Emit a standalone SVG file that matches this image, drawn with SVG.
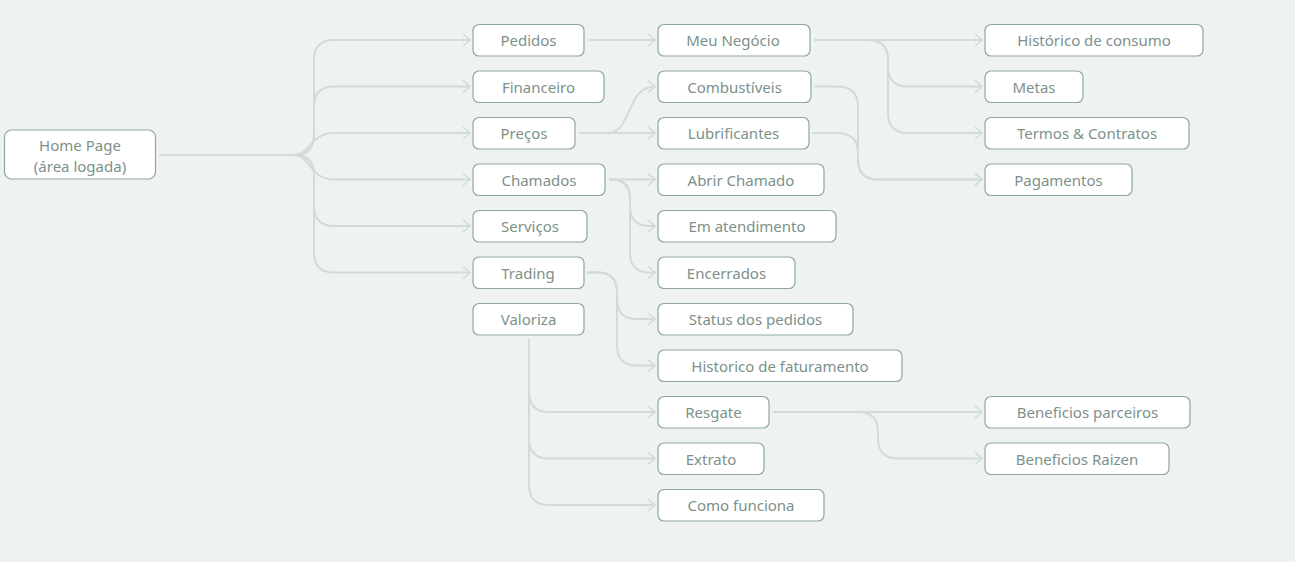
<svg xmlns="http://www.w3.org/2000/svg" width="1295" height="562" viewBox="0 0 1295 562">
<defs>
<marker id="arr" markerWidth="12" markerHeight="14" refX="10" refY="7" orient="auto" markerUnits="userSpaceOnUse">
<path d="M3,1 L10,7 L3,13" fill="none" stroke="#d2dcd6" stroke-width="1.6"/>
</marker>
<style>
.n rect{fill:#ffffff;stroke:#8fa79e;stroke-width:1.2}
.n text{font-family:"Noto Sans","Open Sans","DejaVu Sans",sans-serif;font-size:15px;fill:#7c918a;text-anchor:middle;dominant-baseline:central}
.c path{fill:none;stroke:#d2dcd6;stroke-width:2}
.c path.a{marker-end:url(#arr)}
</style>
</defs>
<rect width="1295" height="562" fill="#eef3ef"/>
<g class="c">
<path class="a" d="M159,155 H294 Q314,155 314,135 V60 Q314,40 334,40 H470"/>
<path class="a" d="M159,155 H294 Q314,155 314,135 V106.5 Q314,86.5 334,86.5 H470"/>
<path class="a" d="M159,155 H294 C310,155 310,133 334,133 H470"/>
<path class="a" d="M159,155 H294 C310,155 310,179.5 334,179.5 H470"/>
<path class="a" d="M159,155 H294 Q314,155 314,175 V206 Q314,226 334,226 H470"/>
<path class="a" d="M159,155 H294 Q314,155 314,175 V252.5 Q314,272.5 334,272.5 H470"/>
<path class="a" d="M589,40 H655"/>
<path class="a" d="M579,133 H655"/>
<path class="a" d="M579,133 H608 C632,133 626,86.5 655,86.5"/>
<path class="a" d="M609,179.5 H655"/>
<path class="a" d="M609,179.5 H612 Q630,179.5 630,199.5 V206 Q630,226 650,226 H655"/>
<path class="a" d="M609,179.5 H612 Q630,179.5 630,199.5 V252.5 Q630,272.5 650,272.5 H655"/>
<path class="a" d="M587,272.5 H598 Q617,272.5 617,292.5 V299 Q617,319 637,319 H655"/>
<path class="a" d="M587,272.5 H598 Q617,272.5 617,292.5 V345.5 Q617,365.5 637,365.5 H655"/>
<path class="a" d="M529,339 V392 Q529,412 549,412 H655"/>
<path class="a" d="M529,339 V438.5 Q529,458.5 549,458.5 H655"/>
<path class="a" d="M529,339 V485 Q529,505 549,505 H655"/>
<path class="a" d="M814,40 H982"/>
<path class="a" d="M814,40 H868 Q888,40 888,60 V66.5 Q888,86.5 908,86.5 H982"/>
<path class="a" d="M814,40 H868 Q888,40 888,60 V113 Q888,133 908,133 H982"/>
<path class="a" d="M815,86.5 H837 Q858,86.5 858,106.5 V159.5 Q858,179.5 878,179.5 H982"/>
<path class="a" d="M812,133 H837 Q858,133 858,153 V159.5 Q858,179.5 878,179.5 H982"/>
<path class="a" d="M773,412 H982"/>
<path class="a" d="M773,412 H858 Q878,412 878,432 V438.5 Q878,458.5 898,458.5 H982"/>
</g>
<g id="home" class="n"><rect x="4.5" y="130" width="151" height="49" rx="7"/><text x="80" y="145">Home Page</text><text x="80" y="165.5">(área logada)</text></g>
<g id="pedidos" class="n"><rect x="473" y="24.5" width="111" height="31.5" rx="6"/><text x="528.5" y="40">Pedidos</text></g>
<g id="financeiro" class="n"><rect x="473" y="71" width="131" height="31.5" rx="6"/><text x="538.5" y="86.5">Financeiro</text></g>
<g id="precos" class="n"><rect x="473" y="117.5" width="102" height="31.5" rx="6"/><text x="524" y="133">Preços</text></g>
<g id="chamados" class="n"><rect x="473" y="164" width="132" height="31.5" rx="6"/><text x="539" y="179.5">Chamados</text></g>
<g id="servicos" class="n"><rect x="473" y="210.5" width="114" height="31.5" rx="6"/><text x="530" y="226">Serviços</text></g>
<g id="trading" class="n"><rect x="473" y="257" width="111" height="31.5" rx="6"/><text x="528" y="272.5">Trading</text></g>
<g id="valoriza" class="n"><rect x="473" y="303.5" width="111" height="31.5" rx="6"/><text x="528.5" y="319">Valoriza</text></g>
<g id="meunegocio" class="n"><rect x="658" y="24.5" width="152" height="31.5" rx="6"/><text x="733" y="40">Meu Negócio</text></g>
<g id="combustiveis" class="n"><rect x="658" y="71" width="153" height="31.5" rx="6"/><text x="734.5" y="86.5">Combustíveis</text></g>
<g id="lubrificantes" class="n"><rect x="658" y="117.5" width="151" height="31.5" rx="6"/><text x="733.5" y="133">Lubrificantes</text></g>
<g id="abrirchamado" class="n"><rect x="658" y="164" width="166" height="31.5" rx="6"/><text x="741" y="179.5">Abrir Chamado</text></g>
<g id="ematendimento" class="n"><rect x="658" y="210.5" width="178" height="31.5" rx="6"/><text x="747" y="226">Em atendimento</text></g>
<g id="encerrados" class="n"><rect x="658" y="257" width="137" height="31.5" rx="6"/><text x="726.5" y="272.5">Encerrados</text></g>
<g id="statuspedidos" class="n"><rect x="658" y="303.5" width="195" height="31.5" rx="6"/><text x="755.5" y="319">Status dos pedidos</text></g>
<g id="historicofat" class="n"><rect x="658" y="350" width="244" height="31.5" rx="6"/><text x="780" y="365.5">Historico de faturamento</text></g>
<g id="resgate" class="n"><rect x="658" y="396.5" width="111" height="31.5" rx="6"/><text x="713.5" y="412">Resgate</text></g>
<g id="extrato" class="n"><rect x="658" y="443" width="106" height="31.5" rx="6"/><text x="711" y="458.5">Extrato</text></g>
<g id="comofunciona" class="n"><rect x="658" y="489.5" width="166" height="31.5" rx="6"/><text x="741" y="505">Como funciona</text></g>
<g id="historicoconsumo" class="n"><rect x="985" y="24.5" width="218" height="31.5" rx="6"/><text x="1094" y="40">Histórico de consumo</text></g>
<g id="metas" class="n"><rect x="985" y="71" width="98" height="31.5" rx="6"/><text x="1034" y="86.5">Metas</text></g>
<g id="termos" class="n"><rect x="985" y="117.5" width="204" height="31.5" rx="6"/><text x="1087" y="133">Termos &amp; Contratos</text></g>
<g id="pagamentos" class="n"><rect x="985" y="164" width="147" height="31.5" rx="6"/><text x="1058.5" y="179.5">Pagamentos</text></g>
<g id="beneficiosparceiros" class="n"><rect x="985" y="396.5" width="205" height="31.5" rx="6"/><text x="1087.5" y="412">Beneficios parceiros</text></g>
<g id="beneficiosraizen" class="n"><rect x="985" y="443" width="184" height="31.5" rx="6"/><text x="1077" y="458.5">Beneficios Raizen</text></g>
</svg>
